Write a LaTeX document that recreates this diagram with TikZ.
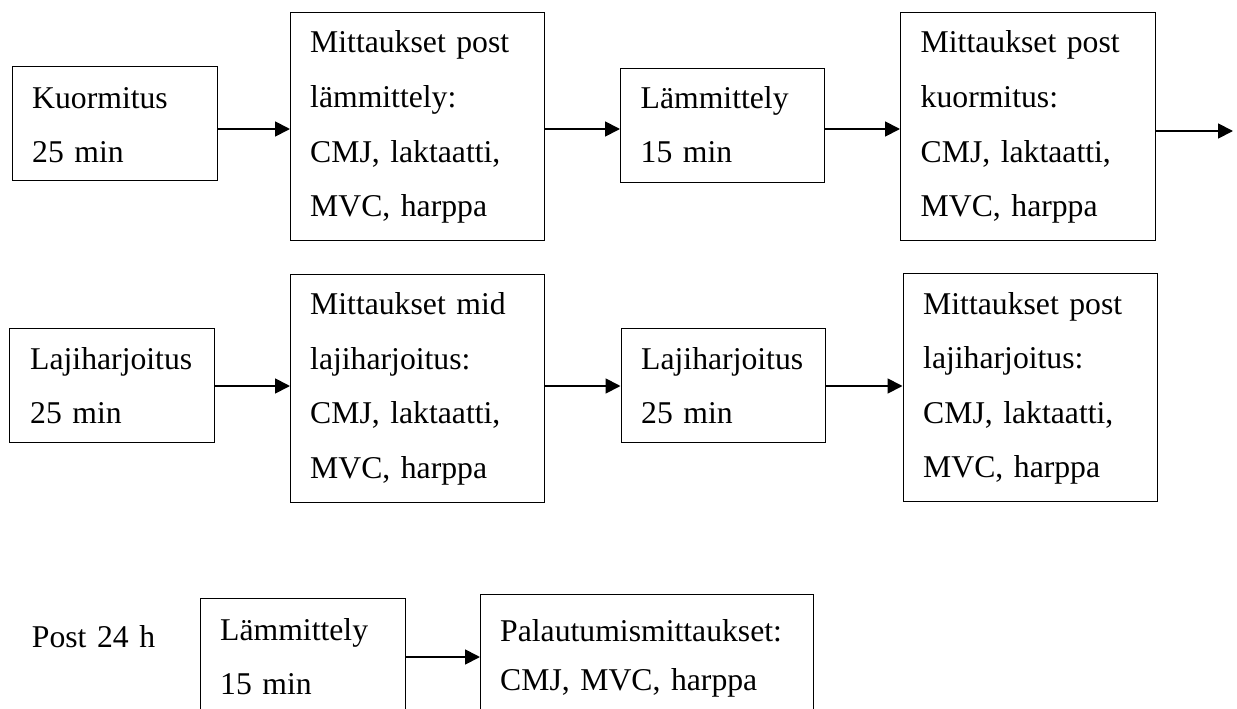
\documentclass[tikz,border=0pt]{standalone}
\usepackage{fontspec}
\setmainfont{Liberation Serif}
\usetikzlibrary{arrows.meta}
\tikzset{
  x=1pt, y=-1pt,
  box/.style={draw, line width=1.2pt, rectangle, inner sep=0pt, anchor=north west},
  txt/.style={anchor=base west, inner sep=0pt, align=left, text width=330pt,
    font=\fontsize{31.7}{54.5}\selectfont},
  txtb/.style={txt, font=\fontsize{31.7}{49}\selectfont},
  arr/.style={line width=1.8pt, -{Triangle[length=15pt,width=15pt]}}
}
\begin{document}
\begin{tikzpicture}
\useasboundingbox (0,0) rectangle (1237,709);
\clip (0,0) rectangle (1237,709);
% row 1
\node[box, minimum width=205pt, minimum height=114pt] (b1) at (12,66) {};
\node[box, minimum width=254pt, minimum height=228pt] (b2) at (290,12) {};
\node[box, minimum width=204pt, minimum height=114pt] (b3) at (620,68) {};
\node[box, minimum width=255pt, minimum height=227.5pt] (b4) at (900,12) {};
\node[txt] (b1t) at (32,108) {Kuormitus\\25 min};
\node[txt] (b2t) at (310,53) {Mittaukset post\\lämmittely:\\CMJ, laktaatti,\\MVC, harppa};
\node[txt] (b3t) at (640.5,108.5) {Lämmittely\\15 min};
\node[txt] (b4t) at (920.5,53) {Mittaukset post\\kuormitus:\\CMJ, laktaatti,\\MVC, harppa};
\coordinate (e1) at (1233,131);
\draw[arr] (b1.east |- 0,129) -- (b2.west |- 0,129);
\draw[arr] (b2.east |- 0,129) -- (b3.west |- 0,129);
\draw[arr] (b3.east |- 0,129) -- (b4.west |- 0,129);
\draw[arr] (b4.east |- e1) -- (e1);
% row 2
\node[box, minimum width=205pt, minimum height=114pt] (c1) at (9,328) {};
\node[box, minimum width=254pt, minimum height=227.5pt] (c2) at (290,274) {};
\node[box, minimum width=204.5pt, minimum height=114pt] (c3) at (620.5,328) {};
\node[box, minimum width=254.5pt, minimum height=227.5pt] (c4) at (902.5,273) {};
\node[txt] (c1t) at (30,369) {Lajiharjoitus\\25 min};
\node[txt] (c2t) at (310,314.5) {Mittaukset mid\\lajiharjoitus:\\CMJ, laktaatti,\\MVC, harppa};
\node[txt] (c3t) at (641,369) {Lajiharjoitus\\25 min};
\node[txt] (c4t) at (923,314) {Mittaukset post\\lajiharjoitus:\\CMJ, laktaatti,\\MVC, harppa};
\draw[arr] (c1.east |- 0,386) -- (c2.west |- 0,386);
\draw[arr] (c2.east |- 0,386) -- (c3.west |- 0,386);
\draw[arr] (c3.east |- 0,386) -- (c4.west |- 0,386);
% row 3
\node[txt] (p24) at (31.7,647) {Post 24 h};
\node[box, minimum width=205pt, minimum height=130pt] (d1) at (200,598) {};
\node[box, minimum width=333pt, minimum height=135pt] (d2) at (480,593.5) {};
\node[txt] (d1t) at (220,640) {Lämmittely\\15 min};
\node[txtb] (d2t) at (500,641.5) {Palautumismittaukset:\\CMJ, MVC, harppa};
\draw[arr] (d1.east |- 0,657) -- (d2.west |- 0,657);
\end{tikzpicture}
\end{document}
